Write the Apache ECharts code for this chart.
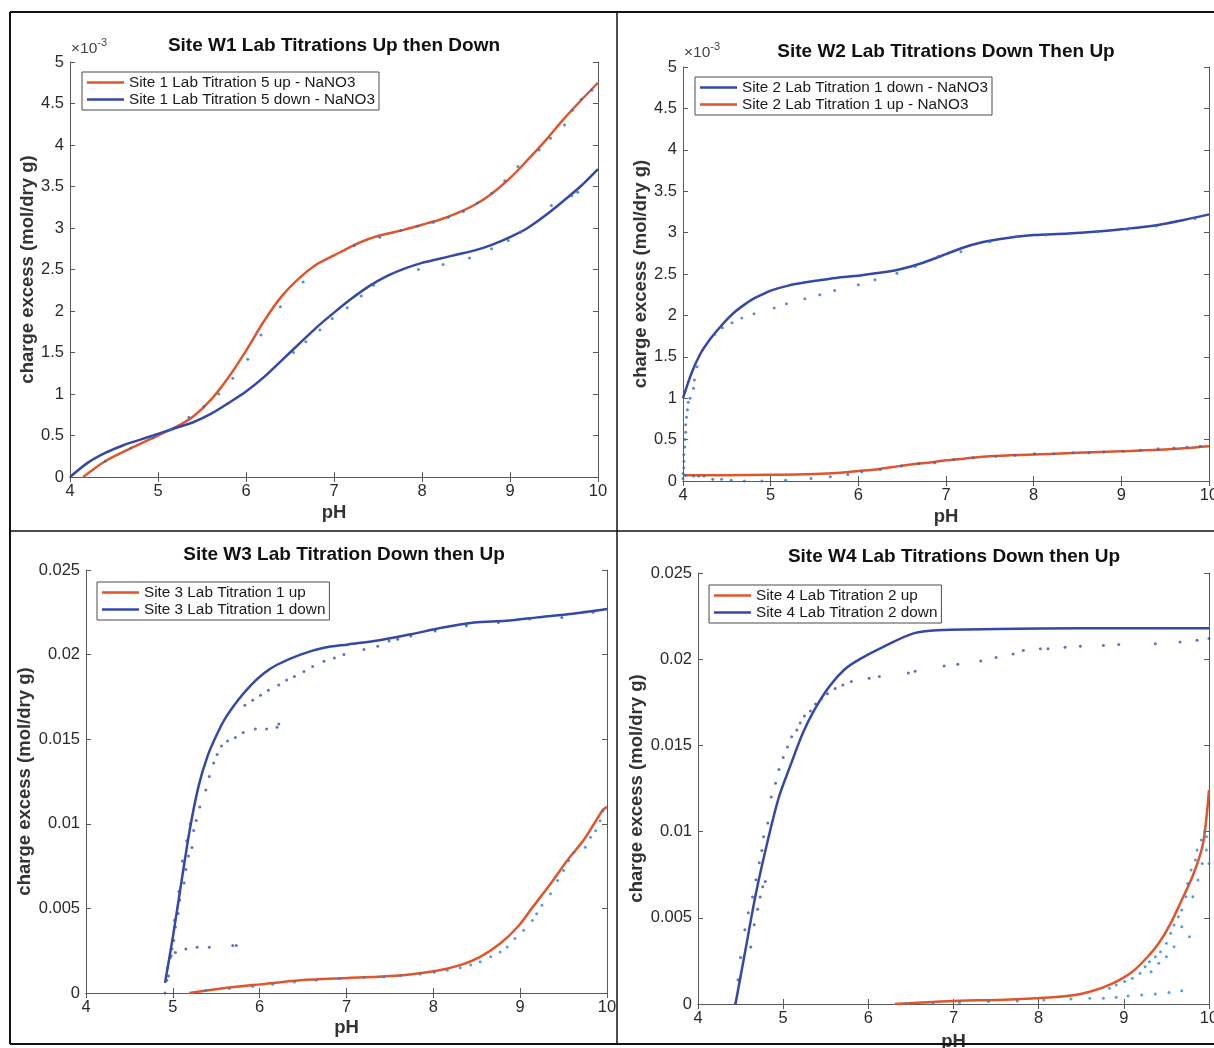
<!DOCTYPE html>
<html>
<head>
<meta charset="utf-8">
<title>Site W1–W4 Lab Titrations</title>
<script src="https://cdn.jsdelivr.net/npm/echarts/dist/echarts.min.js"></script>
<style>
  html, body { margin: 0; padding: 0; background: #ffffff; }
  #chart { width: 1214px; height: 1048px; }
</style>
</head>
<body>
<div id="chart"></div>
<script>
// Charge excess values are in units of 1e-3 mol / dry g; pairs are [pH, value].

// ---- tick labels ----
const xTicks = ['4', '5', '6', '7', '8', '9', '10'];
const yTicksSmall = ['0', '0.5', '1', '1.5', '2', '2.5', '3', '3.5', '4', '4.5', '5'];
const yTicksLarge = ['0', '0.005', '0.01', '0.015', '0.02', '0.025'];

// ---- Site W1 ----
const w1UpLine = [[4.15,0],[4.4,0.19],[4.7,0.35],[5.0,0.5],[5.2,0.6],[5.4,0.73],[5.6,0.93],[5.8,1.2],[6.0,1.52],[6.2,1.87],[6.4,2.17],[6.6,2.39],[6.8,2.56],[7.0,2.67],[7.2,2.78],[7.4,2.87],[7.6,2.93],[7.8,2.98],[8.0,3.04],[8.2,3.1],[8.4,3.18],[8.6,3.28],[8.8,3.42],[9.0,3.6],[9.2,3.82],[9.4,4.05],[9.6,4.3],[9.8,4.53],[10,4.75]];
const w1DownLine = [[4.0,0],[4.2,0.17],[4.4,0.29],[4.6,0.38],[4.8,0.45],[5.0,0.52],[5.2,0.59],[5.4,0.66],[5.6,0.76],[5.8,0.89],[6.0,1.03],[6.2,1.2],[6.4,1.4],[6.6,1.6],[6.8,1.8],[7.0,1.98],[7.2,2.15],[7.4,2.3],[7.6,2.42],[7.8,2.51],[8.0,2.58],[8.2,2.63],[8.4,2.68],[8.6,2.73],[8.8,2.8],[9.0,2.89],[9.2,3.0],[9.4,3.15],[9.6,3.32],[9.8,3.5],[10,3.71]];
const w1UpDots = [[4.40,0.19],[4.69,0.35],[4.95,0.48],[5.14,0.57],[5.35,0.72],[5.52,0.85],[5.69,1.0],[5.85,1.19],[6.02,1.42],[6.17,1.71],[6.39,2.05],[6.65,2.35],[7.23,2.79],[7.52,2.89],[7.76,2.97],[7.95,3.02],[8.13,3.07],[8.30,3.13],[8.47,3.2],[8.63,3.30],[8.79,3.42],[8.94,3.57],[9.09,3.74],[9.33,3.94],[9.46,4.08],[9.62,4.24],[9.71,4.42],[9.81,4.55],[9.93,4.66]];
const w1DownDots = [[4.94,0.49],[5.15,0.57],[6.54,1.5],[6.68,1.63],[6.84,1.77],[6.98,1.91],[7.15,2.04],[7.31,2.18],[7.45,2.31],[7.96,2.50],[8.24,2.56],[8.54,2.64],[8.79,2.75],[8.98,2.85],[9.12,2.95],[9.47,3.27],[9.70,3.39],[9.77,3.43]];

// ---- Site W2 ----
const w2DownLine = [[4.0,1.0],[4.1,1.31],[4.2,1.54],[4.3,1.7],[4.4,1.83],[4.5,1.95],[4.6,2.05],[4.7,2.13],[4.8,2.2],[4.9,2.25],[5.0,2.3],[5.2,2.36],[5.4,2.4],[5.6,2.43],[5.8,2.46],[6.0,2.48],[6.2,2.51],[6.4,2.54],[6.6,2.59],[6.8,2.66],[7.0,2.74],[7.2,2.82],[7.4,2.88],[7.6,2.92],[7.8,2.95],[8.0,2.97],[8.4,2.99],[8.8,3.02],[9.0,3.04],[9.4,3.09],[9.7,3.15],[10,3.22]];
const w2UpLine = [[4.0,0.07],[4.5,0.07],[5.0,0.075],[5.5,0.085],[5.8,0.1],[6.0,0.12],[6.2,0.14],[6.4,0.17],[6.6,0.2],[6.8,0.22],[7.0,0.25],[7.2,0.27],[7.5,0.3],[8.0,0.32],[8.5,0.34],[9.0,0.36],[9.5,0.38],[10,0.42]];
const w2DownDots = [[4.0,0.03],[4.0,0.09],[4.01,0.16],[4.01,0.24],[4.01,0.32],[4.02,0.41],[4.02,0.5],[4.03,0.59],[4.03,0.68],[4.04,0.77],[4.05,0.86],[4.06,0.95],[4.08,1.0],[4.12,1.12],[4.13,1.22],[4.16,1.38],[4.36,1.77],[4.45,1.85],[4.56,1.91],[4.67,1.97],[4.81,2.02],[5.04,2.09],[5.18,2.14],[5.39,2.20],[5.56,2.25],[5.73,2.30],[6.00,2.37],[6.19,2.43],[6.44,2.51],[6.65,2.59],[6.91,2.71],[7.17,2.77],[7.5,2.89],[7.8,2.95],[8.14,2.97],[8.40,2.99],[8.73,3.01],[9.07,3.04],[9.40,3.08],[9.84,3.17]];
const w2UpDots = [[4.03,0.07],[4.12,0.06],[4.18,0.06],[4.24,0.06],[4.34,0.02],[4.44,0.02],[4.55,0.01],[4.70,0.0],[4.90,0.0],[5.17,0.01],[5.46,0.03],[5.68,0.05],[5.88,0.08],[6.04,0.11],[6.25,0.14],[6.49,0.18],[6.69,0.21],[6.87,0.22],[7.09,0.26],[7.31,0.28],[7.57,0.30],[7.79,0.31],[8.01,0.33],[8.23,0.33],[8.45,0.34],[8.63,0.34],[8.80,0.35],[9.02,0.36],[9.22,0.37],[9.42,0.39],[9.60,0.40],[9.75,0.41],[9.90,0.42]];

// ---- Site W3 ----
const w3UpLine = [[5.19,0],[5.56,0.26],[6.01,0.51],[6.47,0.75],[7.02,0.89],[7.56,1.02],[8.01,1.29],[8.31,1.65],[8.54,2.14],[8.77,2.92],[8.97,3.9],[9.16,5.18],[9.35,6.45],[9.54,7.82],[9.74,9.1],[9.95,10.8],[10.0,11.0]];
const w3DownLine = [[4.91,0.6],[5.0,3.3],[5.1,6.6],[5.2,9.8],[5.3,12.3],[5.4,14.0],[5.5,15.2],[5.6,16.2],[5.75,17.3],[5.9,18.2],[6.05,18.9],[6.2,19.4],[6.47,20.0],[6.74,20.4],[7.02,20.6],[7.38,20.85],[7.74,21.2],[8.11,21.6],[8.47,21.9],[8.84,22.0],[9.20,22.2],[9.57,22.4],[10.0,22.7]];
const w3UpDots = [[5.38,0.16],[5.65,0.26],[5.92,0.39],[6.15,0.51],[6.40,0.65],[6.65,0.75],[6.92,0.85],[7.20,0.91],[7.43,0.95],[7.62,1.02],[7.85,1.12],[8.01,1.22],[8.16,1.35],[8.31,1.49],[8.43,1.65],[8.54,1.84],[8.66,2.14],[8.77,2.43],[8.85,2.72],[8.94,3.22],[9.04,3.71],[9.14,4.29],[9.19,4.69],[9.25,5.18],[9.35,5.86],[9.43,6.65],[9.50,7.24],[9.56,7.82],[9.62,8.31],[9.75,8.61],[9.81,9.2],[9.87,9.59],[9.92,10.18],[9.95,10.76]];
const w3DownDots = [[4.91,0.0],[4.93,0.75],[4.94,1.5],[4.97,2.1],[5.01,3.1],[5.03,3.9],[5.06,4.7],[5.08,5.5],[5.13,6.5],[5.15,7.3],[5.18,8.1],[5.22,8.6],[5.24,9.6],[5.27,10.2],[5.31,11.0],[5.38,12.0],[5.42,12.8],[5.47,13.6],[5.51,14.1],
  [4.95,1.0],[4.99,2.6],[5.02,4.3],[5.07,6.0],[5.11,7.8],[5.16,9.0],[5.20,10.0],
  [4.98,2.2],[5.03,2.4],[5.15,2.6],[5.28,2.7],[5.42,2.7],[5.69,2.8],[5.73,2.8],
  [5.56,14.6],[5.63,14.9],[5.72,15.1],[5.81,15.4],[5.95,15.6],[6.08,15.6],[6.20,15.7],[6.22,15.9],
  [5.83,17.0],[5.92,17.3],[6.01,17.6],[6.10,17.9],[6.22,18.2],[6.31,18.5],[6.40,18.7],[6.51,19.0],[6.61,19.3],[6.74,19.6],[6.86,19.8],[6.97,20.0],[7.20,20.3],[7.36,20.5],[7.49,20.8],[7.59,20.9],[7.74,21.1],[8.02,21.4],[8.38,21.7],[8.75,21.9],[9.11,22.1],[9.48,22.2],[9.84,22.5]];

// ---- Site W4 ----
const w4UpLine = [[6.31,0],[6.62,0.08],[7.07,0.19],[7.52,0.23],[7.97,0.33],[8.33,0.46],[8.60,0.71],[8.87,1.2],[9.10,1.87],[9.28,2.74],[9.41,3.52],[9.55,4.68],[9.68,6.03],[9.82,7.57],[9.93,9.31],[10.0,12.4]];
const w4DownLine = [[4.44,0],[4.55,2.94],[4.68,6.41],[4.82,9.5],[4.95,12.0],[5.09,13.9],[5.23,15.7],[5.36,17.0],[5.54,18.4],[5.72,19.4],[5.90,20.0],[6.17,20.7],[6.53,21.5],[6.89,21.7],[7.52,21.75],[8.5,21.8],[10.0,21.8]];
const w4UpDots = [[6.44,0],[6.76,0.04],[7.07,0.08],[7.41,0.14],[7.75,0.17],[8.06,0.23],[8.38,0.29],[8.60,0.33],[8.76,0.33],[8.91,0.39],[9.05,0.46],[9.21,0.52],[9.37,0.58],[9.53,0.66],[9.68,0.77],
  [8.83,0.91],[8.91,1.1],[9.01,1.3],[9.10,1.49],[9.19,1.78],[9.25,2.16],[9.30,2.45],[9.32,1.87],[9.37,2.74],[9.43,3.03],[9.50,3.52],[9.55,4.10],[9.59,4.58],[9.64,5.06],[9.68,5.45],[9.73,6.22],[9.75,6.99],[9.77,3.9],[9.79,7.77],[9.84,8.35],[9.86,8.93],[9.91,9.51],[9.95,10.0],[9.97,8.93],[10.0,8.15],[9.68,4.48],[9.59,3.32],[9.50,2.74],[9.41,2.36],[9.81,6.22],[9.87,7.19],[9.92,8.15],[9.97,9.7]];
const w4DownDots = [[4.44,0.04],[4.47,1.4],[4.50,2.7],[4.55,4.3],[4.59,5.3],[4.64,6.2],[4.68,7.2],[4.72,8.2],[4.75,8.9],[4.77,9.7],[4.82,10.5],[4.86,12.0],[4.91,12.8],[4.95,13.6],[5.00,14.3],[5.05,14.9],[5.10,15.5],[5.16,15.9],[5.20,16.3],[5.25,16.7],[5.32,17.0],[5.38,17.4],[5.45,17.7],[5.52,18.0],[5.61,18.3],[5.70,18.5],
  [4.62,3.3],[4.66,4.6],[4.70,5.5],[4.73,6.2],[4.76,6.8],[4.79,7.1],
  [5.80,18.7],[6.01,18.9],[6.13,19.0],[6.47,19.2],[6.55,19.3],[6.89,19.6],[7.05,19.7],[7.32,19.9],[7.50,20.1],[7.70,20.3],[7.82,20.5],[8.02,20.6],[8.11,20.6],[8.31,20.7],[8.49,20.75],[8.76,20.8],[8.94,20.85],[9.37,20.9],[9.66,21.0],[9.86,21.1],[10.0,21.2]];

// ---- styling ----
const ORANGE = '#e0552a';
const BLUE = '#3548a8';
const DOT = '#2f6fc4';
const DOT_LIGHT = '#2c86d4';
const DOT_DARK = '#3550b0';
const FONT = '"Liberation Sans", Arial, Helvetica, sans-serif';
const AXIS_GRAY = '#5a5a5a';
const TEXT = '#2a2a2a';

const panels = [
  {
    title: 'Site W1 Lab Titrations Up then Down', titleX: 329, titleTop: 31,
    grid: { left: 70, top: 62, width: 528, height: 415 },
    yMax: 5, yStep: 0.5, yTicks: yTicksSmall, yNameGap: 31, xNameGap: 26,
    legendPos: { left: 82, top: 72 },
    lines: [
      { name: 'Site 1 Lab Titration 5 up - NaNO3', data: w1UpLine, color: ORANGE },
      { name: 'Site 1 Lab Titration 5 down - NaNO3', data: w1DownLine, color: BLUE }
    ],
    dots: [
      { name: 'W1 up data', data: w1UpDots, color: DOT },
      { name: 'W1 down data', data: w1DownDots, color: DOT }
    ],
    exponent: { x: 71, y: 48 }
  },
  {
    title: 'Site W2 Lab Titrations Down Then Up', titleX: 941, titleTop: 37,
    grid: { left: 683, top: 67, width: 526, height: 414 },
    yMax: 5, yStep: 0.5, yTicks: yTicksSmall, yNameGap: 33, xNameGap: 26,
    legendPos: { left: 695, top: 77 },
    lines: [
      { name: 'Site 2 Lab Titration 1 down - NaNO3', data: w2DownLine, color: BLUE },
      { name: 'Site 2 Lab Titration 1 up - NaNO3', data: w2UpLine, color: ORANGE }
    ],
    dots: [
      { name: 'W2 down data', data: w2DownDots, color: DOT },
      { name: 'W2 up data', data: w2UpDots, color: DOT }
    ],
    exponent: { x: 684, y: 52 }
  },
  {
    title: 'Site W3 Lab Titration Down then Up', titleX: 339, titleTop: 540,
    grid: { left: 86, top: 570, width: 521, height: 423 },
    yMax: 25, yStep: 5, yTicks: yTicksLarge, yNameGap: 49, xNameGap: 25,
    legendPos: { left: 97, top: 582 },
    lines: [
      { name: 'Site 3 Lab Titration 1 up', data: w3UpLine, color: ORANGE },
      { name: 'Site 3 Lab Titration 1 down', data: w3DownLine, color: BLUE }
    ],
    dots: [
      { name: 'W3 up data', data: w3UpDots, color: DOT_LIGHT },
      { name: 'W3 down data', data: w3DownDots, color: DOT_DARK }
    ]
  },
  {
    title: 'Site W4 Lab Titrations Down then Up', titleX: 949, titleTop: 542,
    grid: { left: 698, top: 573, width: 511, height: 431 },
    yMax: 25, yStep: 5, yTicks: yTicksLarge, yNameGap: 47, xNameGap: 28,
    legendPos: { left: 709, top: 585 },
    lines: [
      { name: 'Site 4 Lab Titration 2 up', data: w4UpLine, color: ORANGE },
      { name: 'Site 4 Lab Titration 2 down', data: w4DownLine, color: BLUE }
    ],
    dots: [
      { name: 'W4 up data', data: w4UpDots, color: DOT_LIGHT },
      { name: 'W4 down data', data: w4DownDots, color: DOT_DARK }
    ]
  }
];

const grids = [], xAxes = [], yAxes = [], series = [], titles = [], legends = [], graphics = [];

function tickLabel(list, step, min) {
  return function (v) {
    const i = Math.round((v - min) / step);
    return list[i] !== undefined ? list[i] : '';
  };
}

panels.forEach(function (p, i) {
  grids.push(Object.assign({ containLabel: false, outerBoundsMode: 'none' }, p.grid));

  const axisLine = { show: true, lineStyle: { color: AXIS_GRAY, width: 1 } };
  const tick = { show: true, inside: true, length: 5, lineStyle: { color: AXIS_GRAY, width: 1 } };
  const nameStyle = { fontFamily: FONT, fontSize: 18.5, fontWeight: 'bold', color: '#333333' };

  // bottom x axis (labelled) and top mirror
  xAxes.push({
    type: 'value', gridIndex: i, position: 'bottom', min: 4, max: 10, interval: 1,
    axisLine: axisLine, axisTick: tick, splitLine: { show: false },
    axisLabel: { margin: 6, fontFamily: FONT, fontSize: 16.5, color: TEXT,
      alignMinLabel: 'center', alignMaxLabel: 'center', formatter: tickLabel(xTicks, 1, 4) },
    name: 'pH', nameLocation: 'middle', nameGap: p.xNameGap, nameTextStyle: nameStyle
  });
  xAxes.push({
    type: 'value', gridIndex: i, position: 'top', min: 4, max: 10, interval: 1,
    axisLine: axisLine, axisTick: tick, splitLine: { show: false }, axisLabel: { show: false }
  });

  // left y axis (labelled) and right mirror
  yAxes.push({
    type: 'value', gridIndex: i, position: 'left', min: 0, max: p.yMax, interval: p.yStep,
    axisLine: axisLine, axisTick: tick, splitLine: { show: false },
    axisLabel: { margin: 6, fontFamily: FONT, fontSize: 16.5, color: TEXT, formatter: tickLabel(p.yTicks, p.yStep, 0) },
    name: 'charge excess (mol/dry g)', nameLocation: 'middle', nameGap: p.yNameGap, nameTextStyle: nameStyle
  });
  yAxes.push({
    type: 'value', gridIndex: i, position: 'right', min: 0, max: p.yMax, interval: p.yStep,
    axisLine: axisLine, axisTick: tick, splitLine: { show: false }, axisLabel: { show: false }
  });

  p.lines.forEach(function (l) {
    series.push({
      name: l.name, type: 'line', xAxisIndex: i * 2, yAxisIndex: i * 2,
      data: l.data, symbol: 'none', showSymbol: false, smooth: 0.3,
      lineStyle: { color: l.color, width: 2.5 }, itemStyle: { color: l.color },
      z: 2, silent: true, clip: true
    });
  });
  p.dots.forEach(function (d) {
    series.push({
      name: d.name, type: 'scatter', xAxisIndex: i * 2, yAxisIndex: i * 2,
      data: d.data, symbol: 'circle', symbolSize: 3,
      itemStyle: { color: d.color }, z: 3, silent: true, clip: true
    });
  });

  titles.push({
    text: p.title, left: p.titleX, top: p.titleTop, textAlign: 'center',
    textStyle: { fontFamily: FONT, fontSize: 19, fontWeight: 'bold', color: '#111111' }
  });

  legends.push({
    data: p.lines.map(function (l) { return l.name; }),
    orient: 'vertical', left: p.legendPos.left, top: p.legendPos.top,
    icon: 'rect', itemWidth: 37, itemHeight: 2.5, itemGap: 2,
    padding: [3, 4, 3, 5],
    borderColor: '#4a4a4a', borderWidth: 1, borderRadius: 0, backgroundColor: '#ffffff',
    selectedMode: false,
    textStyle: { fontFamily: FONT, fontSize: 15.3, color: '#1a1a1a' }
  });

  if (p.exponent) {
    graphics.push({
      type: 'text', left: p.exponent.x, top: p.exponent.y - 11, z: 10,
      style: {
        text: '{a|×10}{b|-3}',
        rich: {
          a: { fontFamily: FONT, fontSize: 15.5, fill: '#444444', verticalAlign: 'bottom', lineHeight: 20 },
          b: { fontFamily: FONT, fontSize: 11, fill: '#444444', verticalAlign: 'top', lineHeight: 20, padding: [0, 0, 9, 0] }
        }
      }
    });
  }
});

// outer frame and panel dividers
const frameLines = [
  { x1: 10, y1: 12, x2: 1214, y2: 12, w: 2 },
  { x1: 10, y1: 12, x2: 10, y2: 1044, w: 2 },
  { x1: 10, y1: 1044, x2: 1214, y2: 1044, w: 2 },
  { x1: 617, y1: 12, x2: 617, y2: 1044, w: 1.5 },
  { x1: 10, y1: 531, x2: 1214, y2: 531, w: 1.5 }
];
frameLines.forEach(function (f) {
  graphics.push({
    type: 'line', z: 20, silent: true,
    shape: { x1: f.x1, y1: f.y1, x2: f.x2, y2: f.y2 },
    style: { stroke: '#111111', lineWidth: f.w }
  });
});

const chart = echarts.init(document.getElementById('chart'), null, { renderer: 'canvas' });
chart.setOption({
  backgroundColor: '#ffffff',
  animation: false,
  title: titles,
  legend: legends,
  grid: grids,
  xAxis: xAxes,
  yAxis: yAxes,
  series: series,
  graphic: graphics
});
</script>
</body>
</html>
